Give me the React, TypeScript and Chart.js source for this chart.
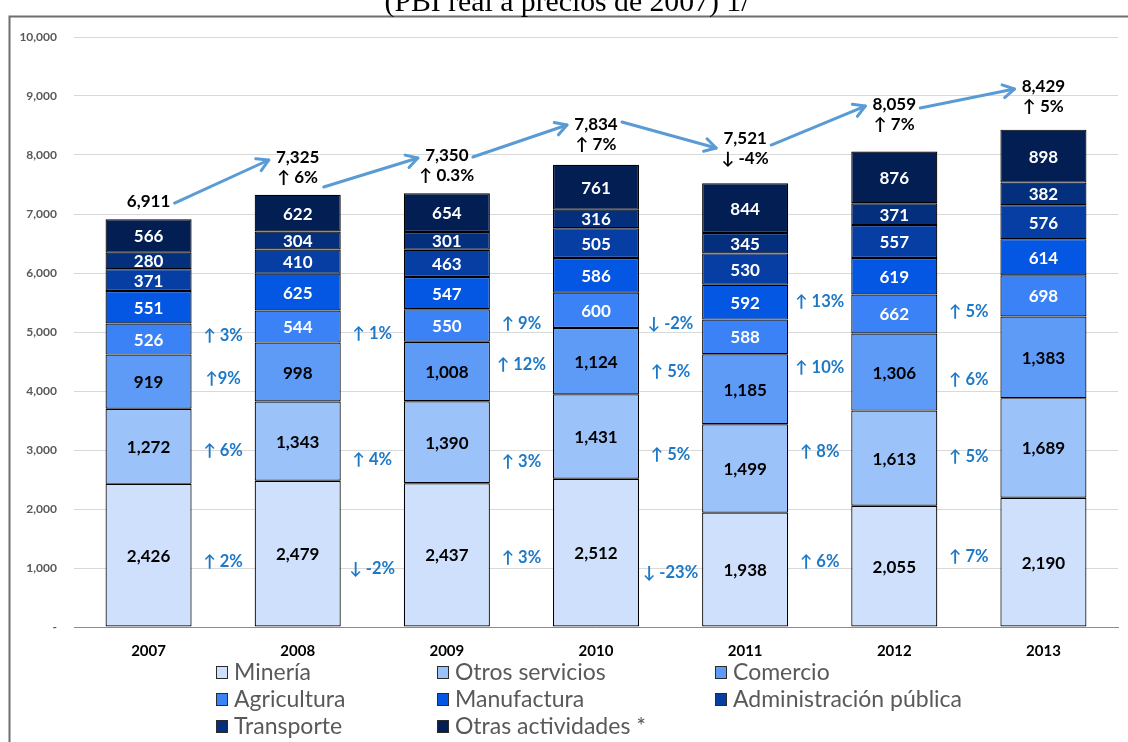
import React, { useEffect, useRef } from "react";
import { Chart, registerables } from "chart.js";
Chart.register(...registerables);

const years = ["2007", "2008", "2009", "2010", "2011", "2012", "2013"];
const mineria = [2426, 2479, 2437, 2512, 1938, 2055, 2190];
const otrosServicios = [1272, 1343, 1390, 1431, 1499, 1613, 1689];
const comercio = [919, 998, 1008, 1124, 1185, 1306, 1383];
const agricultura = [526, 544, 550, 600, 588, 662, 698];
const manufactura = [551, 625, 547, 586, 592, 619, 614];
const administracion = [371, 410, 463, 505, 530, 557, 576];
const transporte = [280, 304, 301, 316, 345, 371, 382];
const otrasActividades = [566, 622, 654, 761, 844, 876, 898];

const totals = ["6,911", "7,325", "7,350", "7,834", "7,521", "8,059", "8,429"];
const totalGrowth = ["", "↑ 6%", "↑ 0.3%", "↑ 7%", "↓ -4%", "↑ 7%", "↑ 5%"];
const totalLabelAt = [7220, 7949, 7983, 8525, 8271, 8864, 9169];

// year-over-year growth by sector, shown between consecutive bars
const growthMineria = ["↑ 2%", "↓ -2%", "↑ 3%", "↓ -23%", "↑ 6%", "↑ 7%"];
const growthOtros = ["↑ 6%", "↑ 4%", "↑ 3%", "↑ 5%", "↑ 8%", "↑ 5%"];
const growthComercio = ["↑9%", null, "↑ 12%", "↑ 5%", "↑ 10%", "↑ 6%"];
const growthAgricultura = ["↑ 3%", "↑ 1%", "↑ 9%", "↓ -2%", "↑ 13%", "↑ 5%"];
const growthMineriaAt = [1102, 983, 1169, 915, 1102, 1186];
const growthOtrosAt = [2983, 2831, 2797, 2915, 2966, 2881];
const growthComercioAt = [4203, null, 4441, 4322, 4390, 4186];
const growthAgriculturaAt = [4932, 4966, 5136, 5136, 5508, 5339];

const seriesNames = [
  "Minería",
  "Otros servicios",
  "Comercio",
  "Agricultura",
  "Manufactura",
  "Administración pública",
  "Transporte",
  "Otras actividades *",
];
const seriesValues = [
  mineria,
  otrosServicios,
  comercio,
  agricultura,
  manufactura,
  administracion,
  transporte,
  otrasActividades,
];
const colors = [
  "#cfe0fc",
  "#9cc2fa",
  "#5e9bf6",
  "#3b82f6",
  "#0457e3",
  "#063ea4",
  "#032f7d",
  "#021e52",
];

const FONT = "Lato, 'Open Sans', sans-serif";

const fmt = (v: number) => v.toLocaleString("en-US");

// arrow attachment tweaks (pixels) relative to total labels
const arrowStartDy = [2, 29, 1, -2, 6, 4];
const arrowEndDy = [2, 2, 1, 9, 2, 3];

const overlayPlugin = {
  id: "overlay",
  beforeDraw(chart: any) {
    const ctx = chart.ctx;
    ctx.save();
    ctx.fillStyle = "#ffffff";
    ctx.fillRect(0, 0, chart.width, chart.height);
    ctx.strokeStyle = "#6e6e6e";
    ctx.lineWidth = 2;
    ctx.beginPath();
    ctx.moveTo(9.5, chart.height);
    ctx.lineTo(9.5, 16.5);
    ctx.lineTo(chart.width, 16.5);
    ctx.stroke();
    const title = "(PBI real a precios de 2007) 1/";
    ctx.font = "20px 'Liberation Serif', 'Times New Roman', serif";
    const w = ctx.measureText(title).width;
    const size = (20 * 365) / w;
    ctx.font = `${size}px 'Liberation Serif', 'Times New Roman', serif`;
    ctx.fillStyle = "#000";
    ctx.textAlign = "center";
    ctx.textBaseline = "alphabetic";
    ctx.fillText(title, 567, 11);
    ctx.restore();
  },
  afterDatasetsDraw(chart: any) {
    const ctx = chart.ctx;
    const xs = chart.scales.x;
    const ys = chart.scales.y;
    ctx.save();
    ctx.textAlign = "center";
    ctx.textBaseline = "middle";
    ctx.font = `bold 17px ${FONT}`;
    chart.data.datasets.forEach((ds: any, di: number) => {
      const meta = chart.getDatasetMeta(di);
      meta.data.forEach((bar: any, j: number) => {
        const cy = (bar.y + bar.base) / 2;
        ctx.fillStyle = di >= 3 ? "#ffffff" : "#000000";
        ctx.fillText(fmt(ds.data[j]), bar.x, cy + 1);
      });
    });
    ctx.font = `bold 16.5px ${FONT}`;
    ctx.fillStyle = "#1d78c6";
    const groups = [
      [growthMineria, growthMineriaAt],
      [growthOtros, growthOtrosAt],
      [growthComercio, growthComercioAt],
      [growthAgricultura, growthAgriculturaAt],
    ];
    groups.forEach(([labels, at]: any) => {
      labels.forEach((t: string | null, i: number) => {
        if (!t || at[i] == null) return;
        const x = (xs.getPixelForValue(i) + xs.getPixelForValue(i + 1)) / 2;
        ctx.fillText(t, x, ys.getPixelForValue(at[i]));
      });
    });
    ctx.font = `bold 17px ${FONT}`;
    ctx.fillStyle = "#000";
    const pts: { x: number; y: number }[] = [];
    totals.forEach((t, i) => {
      const x = xs.getPixelForValue(i);
      const y = ys.getPixelForValue(totalLabelAt[i]);
      ctx.fillText(t, x, y);
      if (totalGrowth[i]) ctx.fillText(totalGrowth[i], x, y + 20);
      pts.push({ x, y });
    });
    ctx.strokeStyle = "#5b9bd5";
    ctx.lineWidth = 3;
    ctx.lineCap = "round";
    ctx.lineJoin = "round";
    for (let i = 0; i < pts.length - 1; i++) {
      const x1 = pts[i].x + 26;
      const y1 = pts[i].y + arrowStartDy[i];
      const x2 = pts[i + 1].x - 29;
      const y2 = pts[i + 1].y + arrowEndDy[i];
      const ang = Math.atan2(y2 - y1, x2 - x1);
      ctx.beginPath();
      ctx.moveTo(x1, y1);
      ctx.lineTo(x2, y2);
      ctx.stroke();
      const L = 13;
      const spread = Math.PI / 6;
      ctx.beginPath();
      ctx.moveTo(x2 - L * Math.cos(ang - spread), y2 - L * Math.sin(ang - spread));
      ctx.lineTo(x2, y2);
      ctx.lineTo(x2 - L * Math.cos(ang + spread), y2 - L * Math.sin(ang + spread));
      ctx.stroke();
    }
    ctx.restore();
  },
  afterDraw(chart: any) {
    const ctx = chart.ctx;
    ctx.save();
    const colX = [216, 437, 715];
    const rowY = [672, 699, 726];
    ctx.font = `23px ${FONT}`;
    ctx.textAlign = "left";
    ctx.textBaseline = "middle";
    chart.data.datasets.forEach((ds: any, i: number) => {
      const c = i % 3;
      const r = Math.floor(i / 3);
      const x = colX[c];
      const y = rowY[r];
      ctx.fillStyle = ds.backgroundColor;
      ctx.fillRect(x, y - 6, 12, 13);
      ctx.strokeStyle = "#2b2b2b";
      ctx.lineWidth = 1;
      ctx.strokeRect(x + 0.5, y - 5.5, 11, 12);
      ctx.fillStyle = "#595959";
      ctx.fillText(ds.label, x + 18, y + 1);
    });
    ctx.restore();
  },
};

export default function App() {
  const ref = useRef<HTMLCanvasElement | null>(null);
  useEffect(() => {
    if (!ref.current) return;
    const chart = new Chart(ref.current, {
      type: "bar",
      data: {
        labels: years,
        datasets: seriesNames.map((name, i) => ({
          label: name,
          data: seriesValues[i],
          backgroundColor: colors[i],
          borderColor: "#000000",
          borderWidth: 1.2,
          borderSkipped: false,
          barPercentage: 0.577,
          categoryPercentage: 1,
        })),
      },
      options: {
        responsive: false,
        animation: false,
        layout: { padding: { left: 0, right: 10, top: 37, bottom: 0 } },
        plugins: {
          legend: { display: false },
          tooltip: { enabled: false },
          title: { display: false },
        },
        scales: {
          x: {
            stacked: true,
            grid: { display: false, drawTicks: false },
            border: { display: true, color: "#8c8c8c", width: 1 },
            ticks: {
              color: "#000",
              font: { family: FONT, size: 15, weight: "bold" },
              padding: 15,
            },
            afterFit: (s: any) => {
              s.height = 115;
            },
          },
          y: {
            stacked: true,
            min: 0,
            max: 10000,
            grid: { color: "#d9d9d9", drawTicks: false },
            border: { display: false },
            ticks: {
              stepSize: 1000,
              color: "#595959",
              font: { family: FONT, size: 12, weight: "bold" },
              padding: 17,
              callback: (v: any) => (Number(v) === 0 ? "-" : fmt(Number(v))),
            },
            afterFit: (s: any) => {
              s.width = 74;
            },
          },
        },
      },
      plugins: [overlayPlugin],
    });
    return () => chart.destroy();
  }, []);
  return (
    <canvas
      ref={ref}
      width={1128}
      height={742}
      style={{ position: "fixed", left: 0, top: 0, width: 1128, height: 742 }}
    />
  );
}
